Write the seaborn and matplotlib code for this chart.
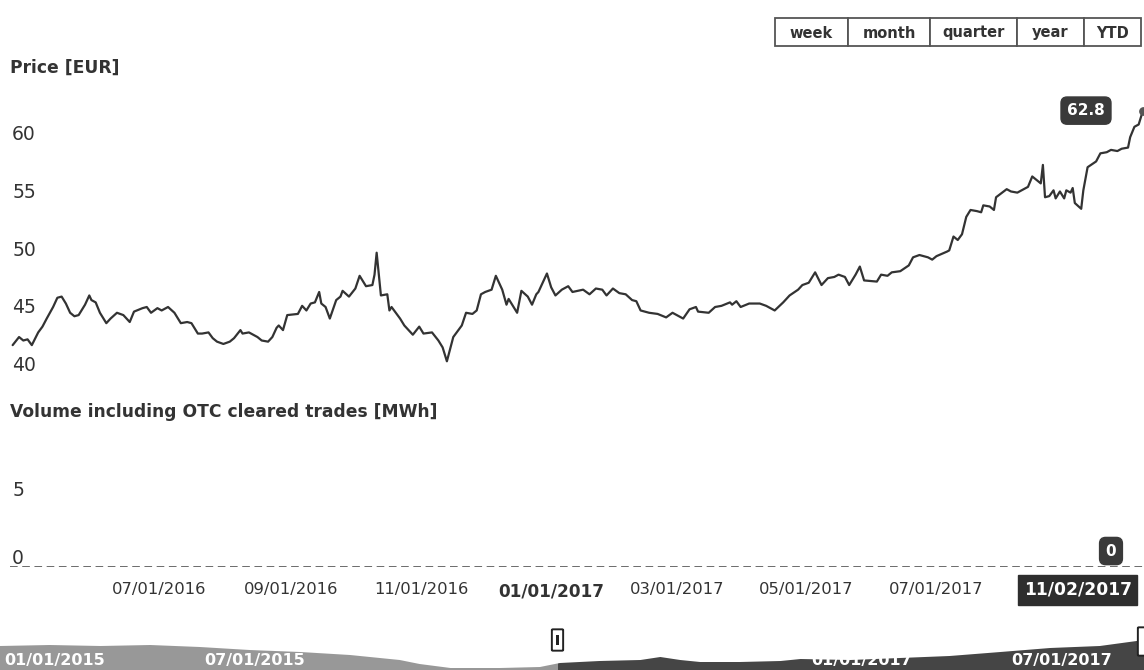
import pandas as pd
import matplotlib
matplotlib.use("Agg")
import matplotlib.pyplot as plt
from matplotlib.patches import Rectangle, FancyBboxPatch
import seaborn as sns

sns.set_theme(style="white")
plt.rcParams["font.family"] = ["DejaVu Sans"]

# %% Data
price_dates = [
    "2016-04-23", "2016-04-26", "2016-04-28", "2016-04-30", "2016-05-02", "2016-05-05", "2016-05-07",
    "2016-05-09", "2016-05-12", "2016-05-14", "2016-05-16", "2016-05-18", "2016-05-20", "2016-05-22",
    "2016-05-24", "2016-05-27", "2016-05-29", "2016-05-30", "2016-06-01", "2016-06-03", "2016-06-06",
    "2016-06-08", "2016-06-11", "2016-06-14", "2016-06-17", "2016-06-19", "2016-06-23", "2016-06-25",
    "2016-06-27", "2016-06-30", "2016-07-02", "2016-07-05", "2016-07-08", "2016-07-11", "2016-07-14",
    "2016-07-16", "2016-07-19", "2016-07-21", "2016-07-24", "2016-07-26", "2016-07-28", "2016-07-31",
    "2016-08-03", "2016-08-05", "2016-08-08", "2016-08-09", "2016-08-12", "2016-08-16", "2016-08-18",
    "2016-08-21", "2016-08-23", "2016-08-25", "2016-08-26", "2016-08-28", "2016-08-30", "2016-09-04",
    "2016-09-06", "2016-09-08", "2016-09-10", "2016-09-12", "2016-09-14", "2016-09-15", "2016-09-17",
    "2016-09-19", "2016-09-22", "2016-09-24", "2016-09-25", "2016-09-28", "2016-10-01", "2016-10-03",
    "2016-10-06", "2016-10-09", "2016-10-10", "2016-10-11", "2016-10-13", "2016-10-16", "2016-10-17",
    "2016-10-18", "2016-10-22", "2016-10-24", "2016-10-28", "2016-10-31", "2016-11-02", "2016-11-06",
    "2016-11-09", "2016-11-11", "2016-11-13", "2016-11-16", "2016-11-20", "2016-11-22", "2016-11-25",
    "2016-11-27", "2016-11-29", "2016-12-01", "2016-12-04", "2016-12-06", "2016-12-09", "2016-12-11",
    "2016-12-12", "2016-12-16", "2016-12-18", "2016-12-21", "2016-12-23", "2016-12-25", "2016-12-26",
    "2016-12-30", "2017-01-01", "2017-01-03", "2017-01-06", "2017-01-09", "2017-01-11", "2017-01-16",
    "2017-01-19", "2017-01-22", "2017-01-25", "2017-01-27", "2017-01-30", "2017-02-02", "2017-02-05",
    "2017-02-08", "2017-02-10", "2017-02-12", "2017-02-16", "2017-02-20", "2017-02-24", "2017-02-27",
    "2017-03-02", "2017-03-04", "2017-03-07", "2017-03-10", "2017-03-11", "2017-03-16", "2017-03-19",
    "2017-03-22", "2017-03-26", "2017-03-27", "2017-03-29", "2017-03-31", "2017-04-04", "2017-04-09",
    "2017-04-12", "2017-04-16", "2017-04-20", "2017-04-23", "2017-04-27", "2017-04-29", "2017-05-02",
    "2017-05-05", "2017-05-08", "2017-05-11", "2017-05-14", "2017-05-16", "2017-05-19", "2017-05-21",
    "2017-05-24", "2017-05-26", "2017-05-28", "2017-06-03", "2017-06-05", "2017-06-08", "2017-06-10",
    "2017-06-14", "2017-06-18", "2017-06-20", "2017-06-23", "2017-06-27", "2017-06-29", "2017-07-01",
    "2017-07-06", "2017-07-07", "2017-07-08", "2017-07-09", "2017-07-11", "2017-07-13", "2017-07-15",
    "2017-07-17", "2017-07-20", "2017-07-22", "2017-07-23", "2017-07-26", "2017-07-28", "2017-07-29",
    "2017-08-03", "2017-08-05", "2017-08-08", "2017-08-10", "2017-08-13", "2017-08-15", "2017-08-17",
    "2017-08-19", "2017-08-20", "2017-08-21", "2017-08-23", "2017-08-25", "2017-08-26", "2017-08-28",
    "2017-08-30", "2017-08-31", "2017-09-02", "2017-09-03", "2017-09-04", "2017-09-07", "2017-09-08",
    "2017-09-10", "2017-09-14", "2017-09-16", "2017-09-19", "2017-09-21", "2017-09-24", "2017-09-26",
    "2017-09-29", "2017-09-30", "2017-10-02", "2017-10-04", "2017-10-06",
]
price_eur = [
    42.5, 43.2, 42.9, 43.0, 42.5, 43.6, 44.1,
    44.8, 45.8, 46.6, 46.7, 46.1, 45.3, 45.0,
    45.1, 46.0, 46.8, 46.4, 46.2, 45.3, 44.4,
    44.8, 45.3, 45.1, 44.5, 45.4, 45.7, 45.8,
    45.3, 45.7, 45.5, 45.8, 45.3, 44.4, 44.5,
    44.4, 43.5, 43.5, 43.6, 43.1, 42.8, 42.6,
    42.8, 43.1, 43.8, 43.5, 43.6, 43.2, 42.9,
    42.8, 43.2, 44.0, 44.2, 43.8, 45.1, 45.2,
    45.9, 45.5, 46.1, 46.2, 47.1, 46.1, 45.8,
    44.8, 46.4, 46.7, 47.2, 46.7, 47.4, 48.5,
    47.6, 47.7, 48.6, 50.5, 46.8, 46.9, 45.5,
    45.8, 44.8, 44.2, 43.4, 44.1, 43.5, 43.6,
    42.9, 42.3, 41.1, 43.2, 44.2, 45.3, 45.2,
    45.5, 46.9, 47.1, 47.3, 48.5, 47.3, 46.0,
    46.5, 45.3, 47.2, 46.7, 46.0, 46.9, 47.1,
    48.7, 47.5, 46.8, 47.3, 47.6, 47.1, 47.3,
    46.9, 47.4, 47.3, 46.8, 47.4, 47.0, 46.9,
    46.4, 46.3, 45.5, 45.3, 45.2, 44.9, 45.3,
    45.0, 44.8, 45.6, 45.8, 45.4, 45.3, 45.8,
    45.9, 46.2, 46.0, 46.3, 45.8, 46.1, 46.1,
    45.9, 45.5, 46.2, 46.8, 47.3, 47.7, 47.9,
    48.8, 47.7, 48.3, 48.4, 48.6, 48.4, 47.7,
    48.6, 49.3, 48.1, 48.0, 48.6, 48.5, 48.8,
    48.9, 49.4, 50.1, 50.3, 50.1, 49.9, 50.2,
    50.6, 50.7, 51.3, 51.9, 51.6, 52.1, 53.6,
    54.2, 54.1, 54.0, 54.6, 54.5, 54.2, 55.3,
    56.0, 55.8, 55.7, 55.9, 56.2, 57.1, 56.8,
    56.5, 58.1, 55.3, 55.4, 55.9, 55.2, 55.8,
    55.2, 55.9, 55.7, 56.1, 54.8, 54.3, 55.9,
    57.9, 58.4, 59.1, 59.2, 59.4, 59.3, 59.5,
    59.6, 60.5, 61.4, 61.6, 62.8,
]
last_volume = 0
last_date_label = "11/02/2017"

price_ticks = [40, 45, 50, 55, 60]
volume_ticks = [0, 5]
x_tick_dates = ["2016-07-01", "2016-09-01", "2016-11-01", "2017-01-01",
                "2017-03-01", "2017-05-01", "2017-07-01"]
x_tick_labels = ["07/01/2016", "09/01/2016", "11/01/2016", "01/01/2017",
                 "03/01/2017", "05/01/2017", "07/01/2017"]

# navigator (overview series, whole history)
nav_dates = ["2015-01-01", "2015-02-15", "2015-04-02", "2015-05-17", "2015-07-01", "2015-08-15",
             "2015-09-30", "2015-11-14", "2015-12-29", "2016-01-16", "2016-02-13", "2016-03-29",
             "2016-05-04", "2016-05-22", "2016-06-27", "2016-08-03", "2016-08-21", "2016-09-08",
             "2016-09-26", "2016-11-01", "2016-12-08", "2016-12-26", "2017-02-09", "2017-03-26",
             "2017-05-10", "2017-06-25", "2017-08-09", "2017-09-23", "2017-11-02"]
nav_values = [54, 55, 54, 55, 53, 50,
              48, 45, 40, 36, 32, 32,
              33, 37, 39, 40, 43, 40,
              38, 38, 39, 41, 40, 42,
              44, 48, 52, 54, 60]
nav_label_dates = ["2015-01-01", "2015-07-01", "2017-01-01", "2017-07-01"]
nav_labels = ["01/01/2015", "07/01/2015", "01/01/2017", "07/01/2017"]

buttons = ["week", "month", "quarter", "year", "YTD"]

# %% Layout helpers (pixel boxes, top-left origin)
W, H = 1144, 670
TXT = "#333333"
LINE = "#333333"


def pbox(x0, y0, x1, y1):
    return [x0 / W, 1 - y1 / H, (x1 - x0) / W, (y1 - y0) / H]


fig = plt.figure(figsize=(W / 100, H / 100), dpi=100)
fig.patch.set_facecolor("white")
ax_p = fig.add_axes(pbox(10, 80, 1144, 374))
ax_v = fig.add_axes(pbox(10, 431, 1144, 567), sharex=ax_p)
ax_n = fig.add_axes(pbox(0, 628, 1144, 670))

dates = pd.to_datetime(price_dates)

# %% Price pane
sns.lineplot(x=dates, y=price_eur, ax=ax_p, color=LINE, lw=1.6, estimator=None)
ax_p.scatter([dates[-1]], [price_eur[-1]], s=28, color="#555555", zorder=5)
ax_p.set_ylim(40, 65.45)
ax_p.set_xlim(pd.Timestamp("2016-04-21 18:00"), pd.Timestamp("2017-10-06 12:00"))

for v in price_ticks:
    ax_p.annotate(str(v), xy=(0, v), xycoords=("axes fraction", "data"),
                  xytext=(1.5, 2), textcoords="offset points",
                  ha="left", va="baseline", fontsize=13.5, color=TXT)

ax_p.annotate(f"{price_eur[-1]:.1f}", xy=(dates[-1], price_eur[-1]),
              xytext=(-41, 0), textcoords="offset points", ha="center", va="center",
              fontsize=11, fontweight="bold", color="white",
              bbox=dict(boxstyle="round,pad=0.4", fc="#3a3a3a", ec="#3a3a3a"))

# %% Volume pane (no trades in the window)
ax_v.set_ylim(0, 10)
ax_v.axhline(0, color="#444444", lw=1.1, ls=(0, (5, 3)))
for v in volume_ticks:
    ax_v.annotate(str(v), xy=(0, v), xycoords=("axes fraction", "data"),
                  xytext=(1.5, 2), textcoords="offset points",
                  ha="left", va="baseline", fontsize=13.5, color=TXT)

ax_v.annotate(str(last_volume), xy=(dates[-1], last_volume),
              xytext=(-23, 11.5), textcoords="offset points", ha="center", va="center",
              fontsize=11, fontweight="bold", color="white",
              bbox=dict(boxstyle="round,pad=0.4", fc="#3a3a3a", ec="#3a3a3a"))
ax_v.annotate(last_date_label, xy=(dates[-1], 0),
              xytext=(-47, -16.5), textcoords="offset points", ha="center", va="center",
              fontsize=12.3, fontweight="bold", color="white",
              bbox=dict(boxstyle="square,pad=0.33", fc="#2e2e2e", ec="#2e2e2e"))

ax_v.set_xticks(pd.to_datetime(x_tick_dates))
ax_v.set_xticklabels(x_tick_labels)
ax_v.tick_params(axis="x", length=0, pad=11, labelsize=11.8, labelcolor=TXT)
for lab in ax_v.get_xticklabels():
    if lab.get_text() == "01/01/2017":
        lab.set_fontweight("bold")
        lab.set_fontsize(12.2)
ax_p.tick_params(axis="x", length=0, labelbottom=False)

for ax in (ax_p, ax_v):
    ax.set_yticks([])
    ax.set_xlabel("")
    ax.set_ylabel("")
    for s in ax.spines.values():
        s.set_visible(False)

# %% Navigator
nd = pd.to_datetime(nav_dates)
ax_n.fill_between(nd, 30, nav_values, color="#454545", lw=0)
ax_n.axvspan(pd.Timestamp("2015-01-01"), pd.Timestamp("2016-05-20"),
             color="white", alpha=0.45, lw=0)
ax_n.set_xlim(pd.Timestamp("2015-01-01"), pd.Timestamp("2017-11-02"))
ax_n.set_ylim(30, 72)
for d, lab in zip(nav_label_dates, nav_labels):
    ax_n.annotate(lab, xy=(pd.Timestamp(d), 30), xytext=(3, 1.5), textcoords="offset points",
                  ha="left", va="bottom", fontsize=11.5, fontweight="bold", color="white")
ax_n.set_xticks([])
ax_n.set_yticks([])
for s in ax_n.spines.values():
    s.set_visible(False)
ax_n.patch.set_alpha(0)

# navigator handles
for x0, y0, w, h in [(553, 630, 9, 20), (1139, 628, 8, 27)]:
    fig.add_artist(FancyBboxPatch((x0 / W, 1 - (y0 + h) / H), w / W, h / H,
                                  boxstyle="round,pad=0.001", transform=fig.transFigure,
                                  fc="white", ec="#222222", lw=1.4))
fig.add_artist(Rectangle((556 / W, 1 - 645 / H), 3 / W, 10 / H, transform=fig.transFigure,
                         fc="#222222", ec="none"))

# %% Titles
fig.text(10 / W, 1 - 68 / H, "Price [EUR]", ha="left", va="center",
         fontsize=12.3, fontweight="bold", color=TXT)
fig.text(10 / W, 1 - 412 / H, "Volume including OTC cleared trades [MWh]", ha="left", va="center",
         fontsize=12.3, fontweight="bold", color=TXT)

# %% Range selector buttons
edges = [775, 848, 930, 1017, 1084, 1141]
for lab, x0, x1 in zip(buttons, edges[:-1], edges[1:]):
    fig.add_artist(Rectangle((x0 / W, 1 - 46 / H), (x1 - x0) / W, 28 / H,
                             transform=fig.transFigure, fc="white", ec="#555555", lw=1.3))
    fig.text((x0 + x1) / 2 / W, 1 - 33 / H, lab, ha="center", va="center",
             fontsize=10.5, fontweight="bold", color=TXT)

fig.savefig("out.png", dpi=100, facecolor="white")
